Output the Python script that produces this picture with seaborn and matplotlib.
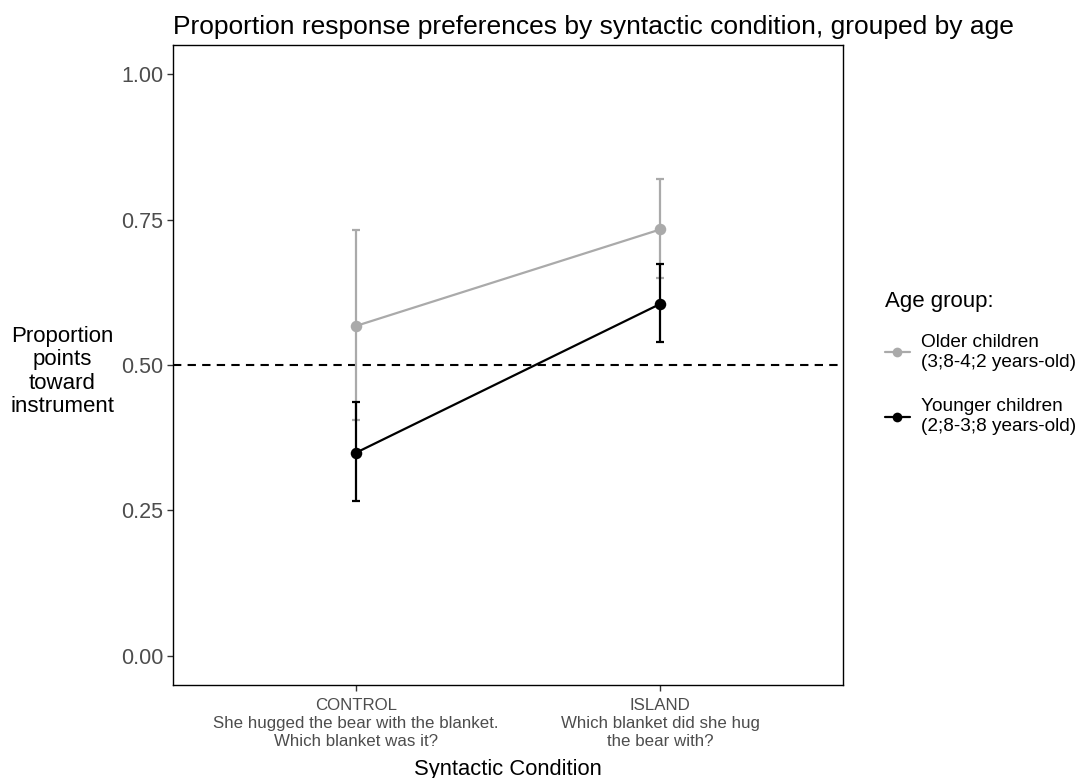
import numpy as np
import pandas as pd
import matplotlib
matplotlib.use("Agg")
import matplotlib.pyplot as plt
import seaborn as sns
from matplotlib.lines import Line2D

conditions = ["CONTROL\nShe hugged the bear with the blanket.\nWhich blanket was it?",
              "ISLAND\nWhich blanket did she hug\nthe bear with?"]
groups = ["Older children\n(3;8-4;2 years-old)", "Younger children\n(2;8-3;8 years-old)"]
older_mean = [0.567, 0.733]
older_lo = [0.405, 0.649]
older_hi = [0.732, 0.820]
younger_mean = [0.349, 0.605]
younger_lo = [0.266, 0.540]
younger_hi = [0.436, 0.673]
y_ticks = [0.00, 0.25, 0.50, 0.75, 1.00]
colors = ["#AAAAAA", "#000000"]

df = pd.DataFrame({
    "cond": [0, 1, 0, 1],
    "group": [groups[0]] * 2 + [groups[1]] * 2,
    "mean": older_mean + younger_mean,
    "lo": older_lo + younger_lo,
    "hi": older_hi + younger_hi,
})

sns.set_style("white")
plt.rcParams["font.family"] = ["Liberation Sans", "DejaVu Sans"]
plt.rcParams["text.color"] = "black"
plt.rcParams["axes.labelcolor"] = "black"

fig = plt.figure(figsize=(10.82, 7.78), dpi=100)
ax = fig.add_axes([173 / 1082, 1 - 685 / 778, 670 / 1082, 640 / 778])

ax.axhline(0.5, color="black", lw=1.5, ls=(0, (4, 3)), zorder=1)

for g, c in zip(groups, colors):
    sub = df[df["group"] == g]
    ax.errorbar(sub["cond"], sub["mean"],
                yerr=[sub["mean"] - sub["lo"], sub["hi"] - sub["mean"]],
                fmt="none", ecolor=c, elinewidth=1.6, capsize=3, capthick=1.6, zorder=2)

sns.lineplot(data=df, x="cond", y="mean", hue="group", palette=colors,
             marker="o", markersize=8.3, markeredgewidth=0, linewidth=1.6,
             ax=ax, legend=False, zorder=3)

ax.set_xlim(-0.6, 1.6)
ax.set_ylim(-0.05, 1.05)
ax.set_xticks([0, 1])
ax.set_xticklabels(conditions, fontsize=12.2, color="#4D4D4D", linespacing=1.28)
ax.set_yticks(y_ticks)
ax.set_yticklabels([f"{t:.2f}" for t in y_ticks], fontsize=15.5, color="#4D4D4D")
ax.tick_params(axis="both", length=4, width=1, color="#333333", direction="out",
               bottom=True, left=True, pad=3)
ax.tick_params(axis="x", pad=5)
for s in ax.spines.values():
    s.set_color("black")
    s.set_linewidth(1.0)

ax.set_xlabel("Syntactic Condition", fontsize=15.8, labelpad=7)
ax.set_ylabel("Proportion\npoints\ntoward\ninstrument", fontsize=16, rotation=0,
              ha="center", va="center", linespacing=1.15)
ax.yaxis.set_label_coords(-0.165, 0.49)
ax.set_title("Proportion response preferences by syntactic condition, grouped by age",
             fontsize=19, pad=8, loc="left")

handles = [Line2D([], [], color=c, marker="o", markersize=7, markeredgewidth=0, lw=1.6)
           for c in colors]
leg = fig.legend(handles, groups, title="Age group:", loc="center left",
                 bbox_to_anchor=(868 / 1082, 1 - 363 / 778), frameon=False,
                 fontsize=13.7, title_fontsize=16, handlelength=1.3,
                 handletextpad=0.6, labelspacing=1.45, alignment="left")
leg._legend_box.sep = 16

fig.savefig("out.png", dpi=100)
